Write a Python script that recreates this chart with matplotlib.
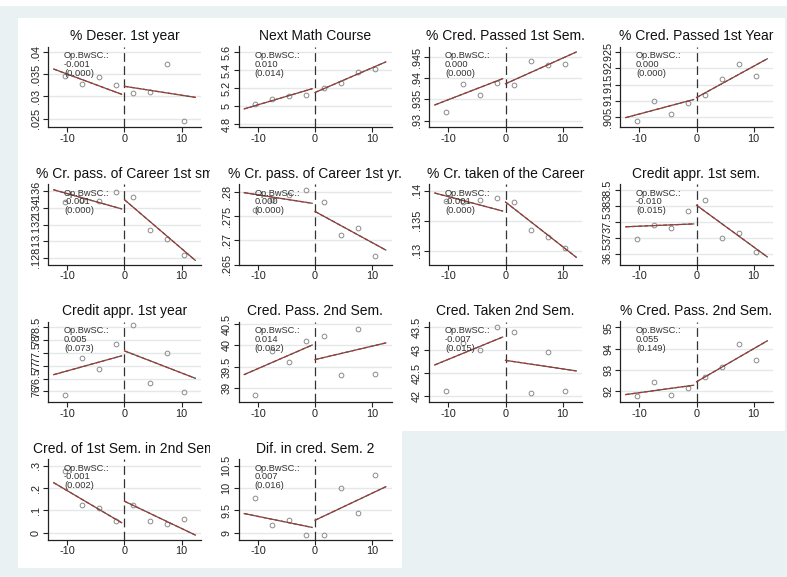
import matplotlib
matplotlib.use("Agg")
import matplotlib.pyplot as plt
from matplotlib.patches import Rectangle
from matplotlib.transforms import Bbox, TransformedBbox

plt.rcParams['font.family'] = ['Liberation Sans', 'DejaVu Sans']

# bin centres on the running variable
bins = [-10.5, -7.5, -4.5, -1.5, 1.5, 4.5, 7.5, 10.5]

titles = ["% Deser. 1st year", "Next Math Course", "% Cred. Passed 1st Sem.",
          "% Cred. Passed 1st Year", "% Cr. pass. of Career 1st sm",
          "% Cr. pass. of Career 1st yr.", "% Cr. taken of the Career",
          "Credit appr. 1st sem.", "Credit appr. 1st year", "Cred. Pass. 2nd Sem.",
          "Cred. Taken 2nd Sem.", "% Cred. Pass. 2nd Sem.",
          "Cred. of 1st Sem. in 2nd Sem", "Dif. in cred. Sem. 2"]

bin_means = [
    [.0346, .0328, .0343, .0327, .0308, .0310, .0374, .0245],
    [5.017, 5.08, 5.114, 5.118, 5.196, 5.26, 5.379, 5.417],
    [.9321, .9387, .9361, .9390, .9383, .9441, .9431, .9433],
    [.9038, .9100, .9060, .9092, .9119, .9166, .9215, .9177],
    [.1347, .1350, .1349, .1359, .1353, .1313, .1303, .1284],
    [.2764, .2784, .2794, .2805, .2780, .2712, .2726, .2667],
    [.1383, .1381, .1384, .1388, .1381, .1334, .1323, .1304],
    [36.98, 37.41, 37.30, 37.84, 38.21, 36.99, 37.14, 36.55],
    [75.85, 77.30, 76.87, 77.82, 78.59, 76.32, 77.49, 75.98],
    [38.84, 39.87, 39.61, 40.11, 40.22, 39.30, 40.39, 39.34],
    [42.10, 43.15, 43.00, 43.50, 43.39, 42.07, 42.96, 42.10],
    [91.76, 92.44, 91.81, 92.17, 92.65, 93.15, 94.23, 93.47],
    [.278, .125, .113, .053, .126, .053, .038, .063],
    [9.77, 9.17, 9.28, 8.95, 8.95, 10.01, 9.44, 10.30],
]

# linear fits, value at the two ends of each side
fit_x_left = [-12.4, -0.5]
fit_x_right = [0.0, 12.4]
fit_left = [(.0362, .0305), (4.968, 5.193), (.9337, .9399), (.9048, .9104),
            (.1362, .1339), (.2799, .2777), (.1396, .1366), (37.35, 37.44),
            (76.65, 77.38), (39.32, 40.01), (42.68, 43.29), (91.84, 92.28),
            (.224, .045), (9.43, 9.12)]
fit_right = [(.0323, .0298), (5.151, 5.492), (.9387, .9462), (.9110, .9230),
             (.1350, .1277), (.2760, .2680), (.1381, .1289), (38.03, 36.40),
             (77.57, 76.51), (39.67, 40.06), (42.78, 42.55), (92.44, 94.37),
             (.141, -.010), (9.28, 10.03)]

coefs = ["-0.001", "0.010", "0.000", "0.000", "-0.001", "0.000", "-0.001",
         "-0.010", "0.005", "0.014", "-0.007", "0.055", "-0.001", "0.007"]
ses = ["(0.000)", "(0.014)", "(0.000)", "(0.000)", "(0.000)", "(0.000)", "(0.000)",
       "(0.015)", "(0.073)", "(0.062)", "(0.015)", "(0.149)", "(0.002)", "(0.016)"]

yticks = [[.025, .03, .035, .04], [4.8, 5, 5.2, 5.4, 5.6], [.93, .935, .94, .945],
          [.905, .91, .915, .92, .925], [.128, .13, .132, .134, .136],
          [.265, .27, .275, .28], [.13, .135, .14], [36.5, 37, 37.5, 38, 38.5],
          [76, 76.5, 77, 77.5, 78, 78.5], [39, 39.5, 40, 40.5], [42, 42.5, 43, 43.5],
          [92, 93, 94, 95], [0, .1, .2, .3], [9, 9.5, 10, 10.5]]
ylims = [(.0231, .0413), (4.766, 5.664), (.9285, .9475), (.9019, .9268),
         (.1272, .1369), (.2652, .2817), (.1277, .1411), (36.16, 38.70),
         (75.59, 78.71), (38.68, 40.56), (41.87, 43.63), (91.49, 95.28),
         (-.030, .330), (8.85, 10.65)]


def fmt(v):
    s = f"{v:g}"
    if s.startswith("0."):
        s = s[1:]
    return s


W, H = 787, 577
fig = plt.figure(figsize=(W / 100, H / 100), dpi=100, facecolor='#e9f1f3')


def fig_rect(x0, y0, x1, y1):
    # pixel box (top-left origin) -> figure fraction rect
    return (x0 / W, 1 - y1 / H, (x1 - x0) / W, (y1 - y0) / H)


# white strip at the very top
r = fig_rect(0, 0, W, 6)
fig.add_artist(Rectangle(r[:2], r[2], r[3], transform=fig.transFigure,
                         facecolor='white', edgecolor='none', zorder=0))

cell_w, cell_h = 191.75, 137.5
x_start, y_start = 18, 18
for x0, y0, x1, y1 in [(x_start, y_start, x_start + 4 * cell_w, y_start + 3 * cell_h),
                       (x_start, y_start + 3 * cell_h, x_start + 2 * cell_w, y_start + 4 * cell_h)]:
    r = fig_rect(x0, y0, x1, y1)
    fig.add_artist(Rectangle(r[:2], r[2], r[3], transform=fig.transFigure,
                             facecolor='white', edgecolor='none', zorder=0))

col_left = [48, 238.5, 429, 620]
ax_w, ax_h = 153, 80.5

for i in range(14):
    row, col = divmod(i, 4)
    bottom = 127 + row * cell_h
    ax = fig.add_axes(fig_rect(col_left[col], bottom - ax_h, col_left[col] + ax_w, bottom))
    ax.set_facecolor('none')

    for t in yticks[i]:
        ax.axhline(t, color='#e4e8e9', lw=1.0, zorder=0)
    ax.axvline(0, color='#333333', lw=0.9, dashes=(7, 3.5), zorder=2)

    ax.plot(bins, bin_means[i], 'o', mfc='none', mec='#8a8a8a', ms=3.4, mew=0.7, zorder=3)
    for xs, ys in [(fit_x_left, fit_left[i]), (fit_x_right, fit_right[i])]:
        ax.plot(xs, ys, color='#555555', lw=0.9, zorder=4)
        ax.plot(xs, ys, color='#b5342c', lw=0.9, dashes=(3, 2), zorder=5)

    ax.text(-10.6, ylims[i][0] + 0.94 * (ylims[i][1] - ylims[i][0]),
            "Op.BwSC.:\n" + coefs[i] + "\n" + ses[i], fontsize=6.7, va='top', ha='left',
            linespacing=0.95, color='#333333', zorder=6)

    ax.set_xlim(-13.4, 13.4)
    ax.set_ylim(*ylims[i])
    ax.set_xticks([-10, 0, 10])
    ax.set_xticklabels(["-10", "0", "10"])
    ax.set_yticks(yticks[i])
    ax.set_yticklabels([fmt(t) for t in yticks[i]], rotation=90, va='center')
    ax.tick_params(axis='both', length=3.5, width=0.8, color='#222222',
                   labelsize=7.8, labelcolor='#222222', pad=1.5)
    for side in ['top', 'right']:
        ax.spines[side].set_visible(False)
    for side in ['left', 'bottom']:
        ax.spines[side].set_color('#222222')
        ax.spines[side].set_linewidth(0.9)

    ttl = ax.set_title(titles[i], fontsize=10, pad=4.5, color='#111111')
    cx0 = x_start + col * cell_w
    cy0 = y_start + row * cell_h
    cr = fig_rect(cx0, cy0, cx0 + cell_w, cy0 + cell_h)
    ttl.set_clip_box(TransformedBbox(Bbox.from_bounds(*cr), fig.transFigure))
    ttl.set_clip_on(True)

fig.savefig("out.png", dpi=100, facecolor=fig.get_facecolor())
